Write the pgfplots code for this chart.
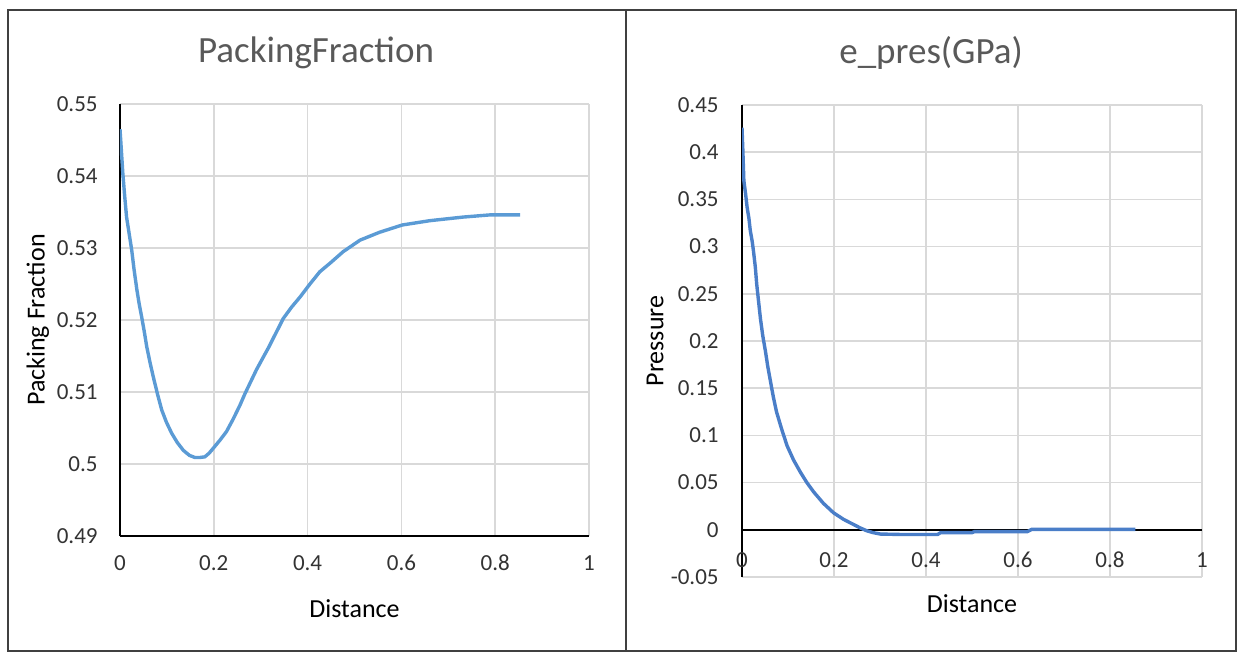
\documentclass[border=0pt]{standalone}
\usepackage{fontspec}
\setmainfont{Carlito}
\usepackage{pgfplots}
\pgfplotsset{compat=1.18}
\definecolor{gridc}{HTML}{D9D9D9}
\definecolor{titlec}{HTML}{595959}
\definecolor{tickc}{HTML}{333333}
\definecolor{bordc}{HTML}{404040}
\definecolor{lineA}{HTML}{5B9BD5}
\definecolor{lineB}{RGB}{74,126,200}
\pgfplotsset{
  common/.style={
    scale only axis,
    /pgf/number format/assume math mode=true,
    /pgf/number format/.cd, fixed, precision=2, /pgfplots/.cd,
    grid=major,
    major grid style={draw=gridc, line width=0.75pt},
    major tick length=0pt,
    axis line style={black, line width=0.8pt},
    tick label style={font=\fontsize{11.5}{12}\selectfont, text=tickc},
    label style={font=\fontsize{13}{14}\selectfont, text=black},
    title style={font=\fontsize{18.5}{20}\selectfont, text=titlec, anchor=center},
    xmin=0, xmax=1,
    xtick={0,0.2,0.4,0.6,0.8,1},
    xticklabels={0,0.2,0.4,0.6,0.8,1},
    yticklabel style={anchor=east, inner sep=0pt},
    xticklabel style={anchor=center, inner sep=0pt},
  }
}
\begin{document}
\begin{tikzpicture}
\path[use as bounding box] (0,0) rectangle (620.5pt,327pt);
\draw[bordc, line width=1pt] (4pt,1.5pt) rectangle (313pt,322pt);
\draw[bordc, line width=1pt] (313pt,1.5pt) rectangle (618pt,322pt);

\begin{axis}[common,
  at={(60pt,59pt)}, anchor=south west,
  width=234.5pt, height=216pt,
  axis x line*=bottom, axis y line*=left,
  ymin=0.49, ymax=0.55,
  ytick={0.49,0.5,0.51,0.52,0.53,0.54,0.55},
  yticklabels={0.49,0.5,0.51,0.52,0.53,0.54,0.55},
  yticklabel style={xshift=-11pt},
  xticklabel style={yshift=-13.5pt},
  title={PackingFraction},
  title style={at={(axis description cs:0.418,1.090)}},
  xlabel={Distance},
  xlabel style={at={(axis description cs:0.5,-0.167)}, anchor=center},
  ylabel={Packing Fraction},
  ylabel style={at={(axis description cs:-0.175,0.5)}, anchor=center, rotate=0},
]
\addplot[lineA, line width=1.7pt, no marks] coordinates {
(0,0.5465) (0.003,0.5435) (0.006,0.5404) (0.010,0.5372) (0.014,0.5343)
(0.020,0.5318) (0.025,0.5297) (0.030,0.5270) (0.036,0.5242) (0.041,0.5222)
(0.046,0.5205) (0.052,0.5183) (0.057,0.5163) (0.064,0.5141) (0.071,0.5121)
(0.080,0.5097) (0.089,0.5075) (0.099,0.5058) (0.110,0.5043) (0.122,0.5030)
(0.135,0.5019) (0.148,0.5012) (0.160,0.5009) (0.170,0.5009) (0.181,0.5010)
(0.190,0.5015) (0.199,0.5022) (0.213,0.5033) (0.227,0.5045) (0.241,0.5062)
(0.256,0.5082) (0.266,0.5097) (0.277,0.5112) (0.291,0.5131) (0.306,0.5149)
(0.317,0.5162) (0.327,0.5175) (0.338,0.5189) (0.348,0.5202) (0.366,0.5218)
(0.384,0.5232) (0.405,0.5250) (0.426,0.5267) (0.448,0.5279) (0.476,0.5295)
(0.512,0.5311) (0.554,0.5322) (0.602,0.5332) (0.661,0.5338) (0.732,0.5343)
(0.789,0.5346) (0.853,0.5346)
};
\end{axis}

\begin{axis}[common,
  at={(371pt,38.5pt)}, anchor=south west,
  width=230pt, height=236pt,
  axis x line*=middle, axis y line*=left,
  hide obscured x ticks=false,
  ymin=-0.05, ymax=0.45,
  ytick={-0.05,0,0.05,0.1,0.15,0.2,0.25,0.3,0.35,0.4,0.45},
  yticklabels={-0.05,0,0.05,0.1,0.15,0.2,0.25,0.3,0.35,0.4,0.45},
  yticklabel style={xshift=-11.5pt},
  xticklabel style={yshift=-15pt},
  title={e\_pres(GPa)},
  title style={at={(axis description cs:0.411,1.085)}},
  xlabel={Distance},
  xlabel style={at={(axis description cs:0.5,-0.0572)}, anchor=center},
  ylabel={Pressure},
  ylabel style={at={(axis description cs:-0.189,0.5)}, anchor=center},
]
\addplot[lineB, line width=1.7pt, no marks] coordinates {
(0,0.426) (0.002,0.400) (0.004,0.370) (0.008,0.355) (0.011,0.342)
(0.015,0.330) (0.018,0.317) (0.022,0.306) (0.025,0.295) (0.029,0.278)
(0.032,0.260) (0.036,0.242) (0.040,0.224) (0.045,0.206) (0.051,0.189)
(0.056,0.173) (0.062,0.157) (0.068,0.141) (0.075,0.125) (0.086,0.107)
(0.098,0.089) (0.112,0.074) (0.127,0.061) (0.141,0.050) (0.156,0.040)
(0.177,0.028) (0.199,0.018) (0.221,0.011) (0.243,0.0055) (0.257,0.002)
(0.271,-0.001) (0.285,-0.003) (0.301,-0.0045) (0.350,-0.005) (0.425,-0.005)
(0.432,-0.003) (0.500,-0.003) (0.505,-0.002) (0.620,-0.002) (0.630,0.0005)
(0.855,0.0005)
};
\end{axis}
\end{tikzpicture}
\end{document}
